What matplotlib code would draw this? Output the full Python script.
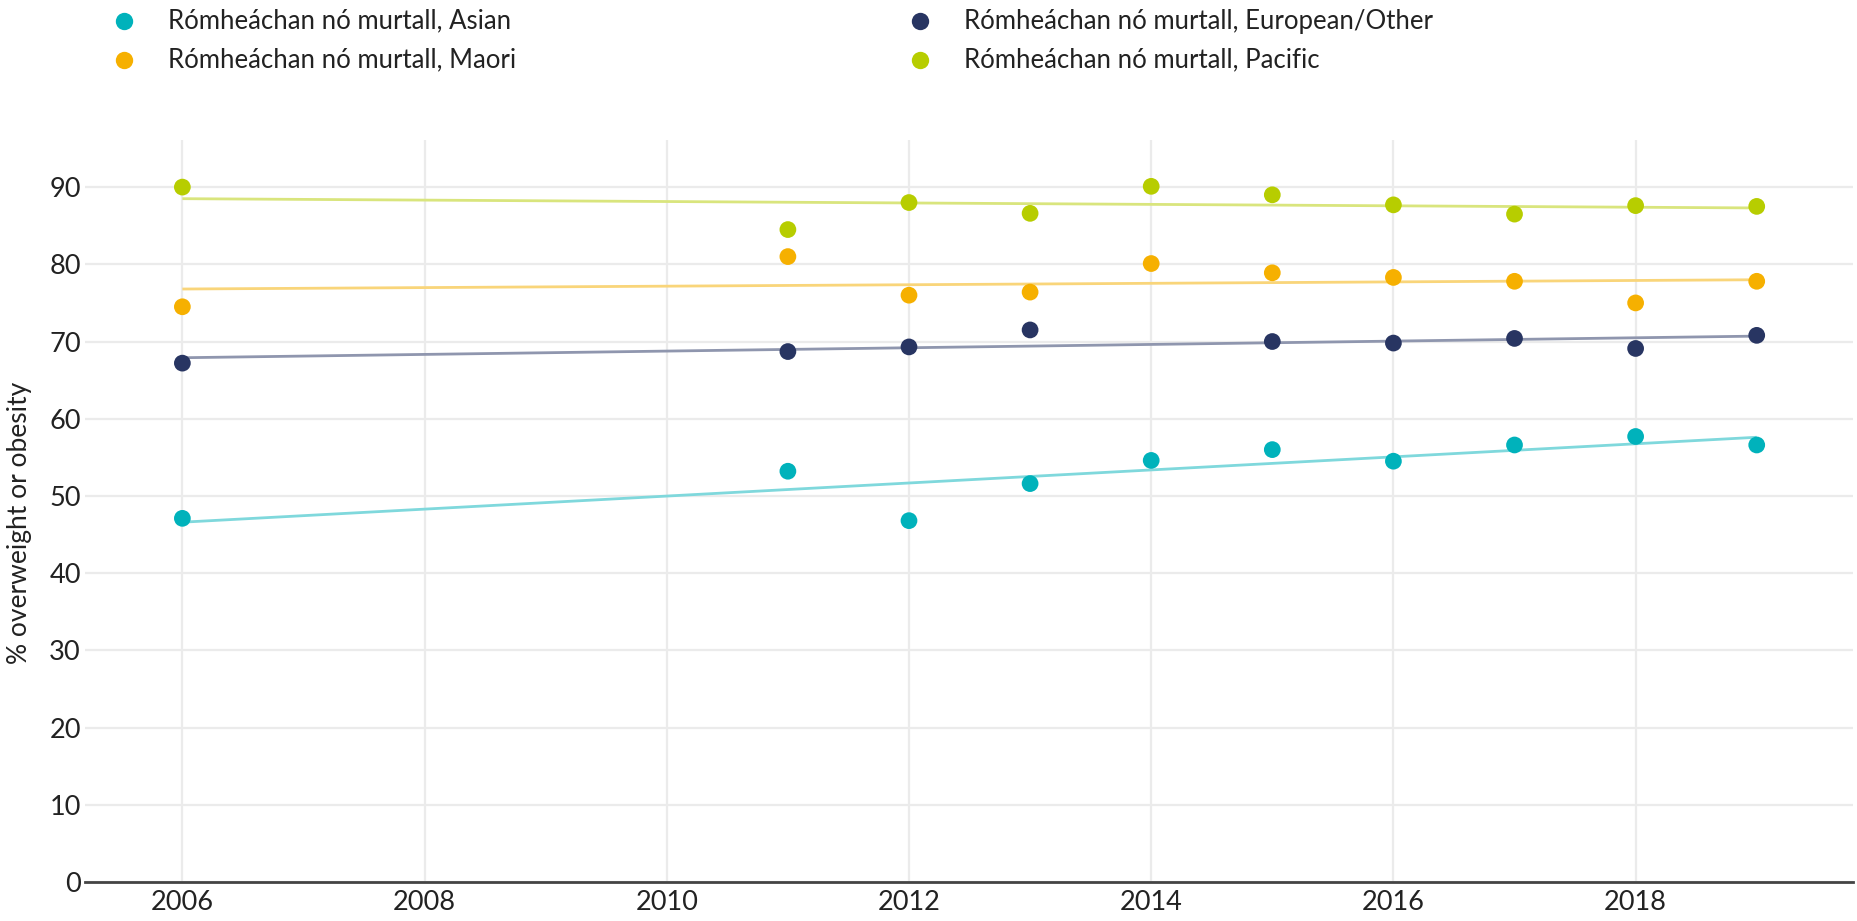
import matplotlib
matplotlib.use("Agg")
import matplotlib.pyplot as plt
from matplotlib.lines import Line2D

plt.rcParams['font.family'] = ['Lato', 'DejaVu Sans']

years = [2006, 2011, 2012, 2013, 2014, 2015, 2016, 2017, 2018, 2019]
years_euro = [2006, 2011, 2012, 2013, 2015, 2016, 2017, 2018, 2019]

asian = [47.1, 53.2, 46.8, 51.6, 54.6, 56.0, 54.5, 56.6, 57.7, 56.6]
maori = [74.5, 81.0, 76.0, 76.4, 80.1, 78.9, 78.3, 77.8, 75.0, 77.8]
european = [67.2, 68.7, 69.3, 71.5, 70.0, 69.8, 70.4, 69.1, 70.8]
pacific = [90.0, 84.5, 88.0, 86.6, 90.1, 89.0, 87.7, 86.5, 87.6, 87.5]

trend_years = [2006, 2019]
asian_trend = [46.6, 57.6]
maori_trend = [76.8, 78.0]
european_trend = [67.9, 70.7]
pacific_trend = [88.5, 87.3]

labels = ["Rómheáchan nó murtall, Asian", "Rómheáchan nó murtall, Maori",
          "Rómheáchan nó murtall, European/Other", "Rómheáchan nó murtall, Pacific"]
colors = ["#00B2BB", "#F6B000", "#283562", "#B7CD00"]
trend_colors = ["#7FD8DC", "#F9D57A", "#8F96AE", "#D9E57D"]

yticks = [0, 10, 20, 30, 40, 50, 60, 70, 80, 90]
xticks = [2006, 2008, 2010, 2012, 2014, 2016, 2018]

W, H = 1857, 921
fig = plt.figure(figsize=(W / 100, H / 100), dpi=100)
ax = fig.add_axes([85 / W, 1 - 882 / H, (1853 - 85) / W, (882 - 140) / H])

series = [(years, asian, asian_trend), (years, maori, maori_trend),
          (years_euro, european, european_trend), (years, pacific, pacific_trend)]

for (xs, ys, tr), c, tc in zip(series, colors, trend_colors):
    ax.plot(trend_years, tr, color=tc, lw=2, zorder=2, solid_capstyle='butt')
for (xs, ys, tr), c in zip(series, colors):
    ax.scatter(xs, ys, s=145, color=c, edgecolors='none', zorder=3)

ax.set_xlim(2005.196, 2019.795)
ax.set_ylim(0, 96.1)
ax.set_xticks(xticks)
ax.set_yticks(yticks)
ax.grid(True, color="#EBEBEB", lw=1.6, zorder=0)
ax.set_axisbelow(True)
for s in ['top', 'right', 'left']:
    ax.spines[s].set_visible(False)
ax.spines['bottom'].set_color('#444444')
ax.spines['bottom'].set_linewidth(2)
ax.spines['bottom'].set_zorder(4)
ax.tick_params(axis='both', length=0, labelsize=19.5, colors='#222222')
ax.tick_params(axis='x', pad=6)
ax.tick_params(axis='y', pad=3)
fig.text(20 / W, 1 - 523 / H, "% overweight or obesity", fontsize=19, color='#222222',
         rotation=90, ha='center', va='center')

# legend
leg_pos = [(124, 21), (124, 60), (920, 21), (920, 60)]
for (px, py), c, lab in zip(leg_pos, colors, labels):
    fig.add_artist(Line2D([px / W], [1 - py / H], marker='o', markersize=12.5,
                          color=c, markeredgecolor='none', linestyle='none',
                          transform=fig.transFigure))
    fig.text((px + 44) / W, 1 - py / H, lab, fontsize=18.5, color='#222222',
             va='center', ha='left')

fig.savefig("out.png", dpi=100, facecolor='white')
